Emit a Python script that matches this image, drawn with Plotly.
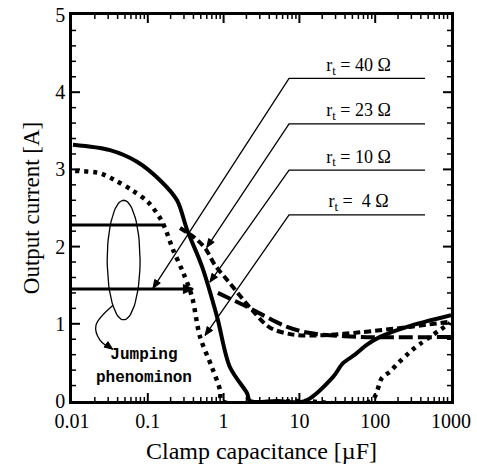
import numpy as np
import plotly.graph_objects as go

# ---- data ----
r10_x = [0.0103, 0.0317, 0.072, 0.145, 0.243, 0.329, 0.52, 0.82, 1.21, 2.04, 2.23,
         5.0, 11.9, 27.7, 37.6, 54, 78, 116, 263, 1000]
r10_y = [3.32, 3.25, 3.10, 2.86, 2.60, 2.22, 1.74, 1.09, 0.44, 0.10, 0.0,
         0.0, 0.0, 0.31, 0.49, 0.60, 0.73, 0.83, 0.96, 1.11]

r4_x = [0.011, 0.0234, 0.0369, 0.062, 0.10, 0.145, 0.169, 0.215, 0.291, 0.383, 0.489,
        0.70, 0.90, 0.95, 10, 88, 123, 157, 200, 263, 335, 970]
r4_y = [2.98, 2.95, 2.86, 2.73, 2.58, 2.37, 2.24, 1.96, 1.67, 1.35, 0.83,
        0.44, 0.14, 0.0, 0.0, 0.0, 0.30, 0.38, 0.49, 0.60, 0.69, 1.01]

r23_flat_x = [0.01, 0.17]
r23_flat_y = [2.28, 2.28]
r23_x = [0.266, 0.42, 0.57, 0.77, 1.11, 2.37, 4.1, 8.2, 18.7, 63, 288, 1000]
r23_y = [2.24, 2.11, 1.98, 1.76, 1.57, 1.18, 0.95, 0.86, 0.85, 0.89, 0.96, 1.03]

r40_flat_x = [0.01, 0.39]
r40_flat_y = [1.45, 1.45]
r40_x = [0.84, 2.04, 6.9, 13.8, 63, 1000]
r40_y = [1.40, 1.22, 0.96, 0.88, 0.83, 0.83]

labels = ["r<sub>t</sub> = 40 Ω", "r<sub>t</sub> = 23 Ω", "r<sub>t</sub> = 10 Ω", "r<sub>t</sub> =  4 Ω"]
label_y = [4.18, 3.59, 2.99, 2.41]
label_x0, label_x1 = 7.3, 454
tip_x = [0.117, 0.60, 0.66, 0.57]
tip_y = [1.46, 1.99, 1.54, 0.85]

jump_arrow_x = [0.0348, 0.0207, 0.0234, 0.0345]
jump_arrow_y = [1.24, 0.98, 0.79, 0.67]
jump_text = ["<b>Jumping</b>", "<b>phenominon</b>"]
jump_text_x = [0.089, 0.089]
jump_text_y = [0.60, 0.30]

x_major = [0.01, 0.1, 1, 10, 100, 1000]
y_major = [0, 1, 2, 3, 4, 5]
y_minor_step = 0.2

# ellipse (annotation) centre / half-widths in decades and amps
ell_cx, ell_rx, ell_cy, ell_ry = np.log10(0.048), 0.217, 1.825, 0.775

serif = "Liberation Serif"
blk = "black"
SX, SY = 75.8, 77.2   # approx. pixels per decade / per amp (for tick lengths & arrowheads)

fig = go.Figure()
spl = dict(shape="spline", smoothing=0.9)
fig.add_trace(go.Scatter(x=r10_x, y=r10_y, mode="lines", line=dict(color=blk, width=4, **spl), showlegend=False))
fig.add_trace(go.Scatter(x=r4_x, y=r4_y, mode="lines", line=dict(color=blk, width=4.5, dash="4px,5px", **spl), showlegend=False))
fig.add_trace(go.Scatter(x=r23_x, y=r23_y, mode="lines", line=dict(color=blk, width=4, dash="7px,4px", **spl), showlegend=False))
fig.add_trace(go.Scatter(x=r40_x, y=r40_y, mode="lines", line=dict(color=blk, width=4, dash="14px,5px", **spl), showlegend=False))
fig.add_trace(go.Scatter(x=r23_flat_x, y=r23_flat_y, mode="lines", line=dict(color=blk, width=3), showlegend=False))
fig.add_trace(go.Scatter(x=r40_flat_x, y=r40_flat_y, mode="lines", line=dict(color=blk, width=3), showlegend=False))


def arrow_head(tx, ty, fx, fy, size=9.0, ang=0.38, lw=1.0):
    dx = (np.log10(tx) - np.log10(fx)) * SX
    dy = (ty - fy) * SY
    n = np.hypot(dx, dy)
    bx, by = -dx / n * size, -dy / n * size
    pts = []
    for a in (ang, -ang):
        wx = bx * np.cos(a) - by * np.sin(a)
        wy = bx * np.sin(a) + by * np.cos(a)
        pts.append((10 ** (np.log10(tx) + wx / SX), ty + wy / SY))
    xs = [pts[0][0], tx, pts[1][0], pts[0][0]]
    ys = [pts[0][1], ty, pts[1][1], pts[0][1]]
    fig.add_trace(go.Scatter(x=xs, y=ys, mode="lines", fill="toself", fillcolor=blk,
                             line=dict(color=blk, width=lw), showlegend=False))


arrow_head(0.40, r40_flat_y[1], r40_flat_x[0], r40_flat_y[0], size=11, ang=0.42)

# curved arrow from the ellipse to the text
fig.add_trace(go.Scatter(x=jump_arrow_x, y=jump_arrow_y, mode="lines",
                         line=dict(color=blk, width=1.3, shape="spline"), showlegend=False))
arrow_head(jump_arrow_x[-1], jump_arrow_y[-1], jump_arrow_x[-2], jump_arrow_y[-2], size=9)

# ellipse drawn as a closed line
t = np.linspace(0, 2 * np.pi, 73)
fig.add_trace(go.Scatter(x=10 ** (ell_cx + ell_rx * np.cos(t)), y=ell_cy + ell_ry * np.sin(t), mode="lines",
                         line=dict(color=blk, width=1.3), showlegend=False))

for lab, ly, tx, ty in zip(labels, label_y, tip_x, tip_y):
    fig.add_trace(go.Scatter(x=[label_x1, label_x0, tx], y=[ly, ly, ty], mode="lines",
                             line=dict(color=blk, width=1.3), showlegend=False))
    arrow_head(tx, ty, label_x0, ly, size=9)
    fig.add_trace(go.Scatter(x=[10 ** (np.log10(np.sqrt(label_x0 * label_x1)) + 0.02)], y=[ly + 0.04], mode="text",
                             text=[lab], textposition="top center",
                             textfont=dict(family=serif, size=18, color=blk), showlegend=False))

fig.add_trace(go.Scatter(x=jump_text_x, y=jump_text_y, mode="text", text=jump_text, textposition="middle center",
                         textfont=dict(family="Liberation Mono", size=16, color=blk), showlegend=False))

# inside ticks on all four sides (major + minor), built from the axis tick values
x_lo, x_hi = x_major[0], x_major[-1]
y_lo, y_hi = y_major[0], y_major[-1]
x_minor = [k * d for d in x_major[:-1] for k in range(2, 10)]
y_minor = [v for v in np.arange(y_lo, y_hi + 1e-9, y_minor_step) if abs(v - round(v)) > 1e-6]
for xv_list, yv_list, plen, w in ((x_major[1:-1], y_major[1:-1], 8, 2), (x_minor, y_minor, 4, 1.5)):
    tx_, ty_ = [], []
    Ly = plen / SY
    for v in xv_list:
        tx_ += [v, v, None, v, v, None]
        ty_ += [y_lo, y_lo + Ly, None, y_hi, y_hi - Ly, None]
    Lx = plen / SX
    for v in yv_list:
        tx_ += [x_lo, 10 ** (np.log10(x_lo) + Lx), None, x_hi, 10 ** (np.log10(x_hi) - Lx), None]
        ty_ += [v, v, None, v, v, None]
    fig.add_trace(go.Scatter(x=tx_, y=ty_, mode="lines", line=dict(color=blk, width=w),
                             connectgaps=False, showlegend=False, hoverinfo="skip"))

fig.update_layout(
    width=477, height=464,
    margin=dict(l=72, r=26, t=15, b=63),
    paper_bgcolor="white", plot_bgcolor="white",
    font=dict(family=serif, color=blk),
)
fig.update_xaxes(type="log", range=[-2, 3], automargin=False,
                 tickvals=x_major, ticktext=["0.01", "0.1", "1", "10", "100", "1000"], ticks="",
                 showline=True, linewidth=2.5, linecolor=blk, mirror=True,
                 showgrid=False, zeroline=False,
                 tickfont=dict(family=serif, size=20, color=blk),
                 title=dict(text="Clamp capacitance [µF]", font=dict(family=serif, size=24, color=blk), standoff=12))
fig.update_yaxes(range=[0, 5], automargin=False, tickvals=y_major, ticks="",
                 showline=True, linewidth=2.5, linecolor=blk, mirror=True,
                 showgrid=False, zeroline=False,
                 tickfont=dict(family=serif, size=20, color=blk),
                 title=dict(text="Output current [A]", font=dict(family=serif, size=23, color=blk), standoff=10))

fig.write_html("out.html")
